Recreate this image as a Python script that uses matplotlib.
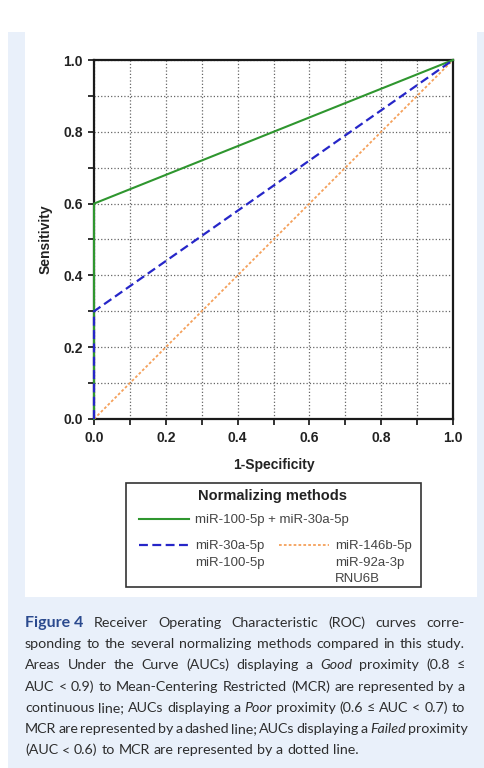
import matplotlib
matplotlib.use('Agg')
import matplotlib.pyplot as plt
from matplotlib.patches import Rectangle
import numpy as np

W, H = 485, 768

# ROC curves (1-specificity, sensitivity)
fpr_good = [0.0, 0.0, 1.0]
tpr_good = [0.0, 0.6, 1.0]
fpr_poor = [0.0, 0.0, 1.0]
tpr_poor = [0.0, 0.3, 1.0]
fpr_fail = [0.0, 1.0]
tpr_fail = [0.0, 1.0]

label_good = ['miR-100-5p + miR-30a-5p']
label_poor = ['miR-30a-5p', 'miR-100-5p']
label_fail = ['miR-146b-5p', 'miR-92a-3p', 'RNU6B']

caption = [
    'Figure\u00a04 Receiver Operating Characteristic (ROC) curves corre-',
    'sponding to the several normalizing methods compared in this study.',
    'Areas Under the Curve (AUCs) displaying a Good proximity (0.8 \u2264',
    'AUC < 0.9) to Mean-Centering Restricted (MCR) are represented by a',
    'continuous line; AUCs displaying a Poor proximity (0.6 \u2264 AUC < 0.7) to',
    'MCR are represented by a dashed line; AUCs displaying a Failed proximity',
    '(AUC < 0.6) to MCR are represented by a dotted line.',
]
italic_words = {'Good', 'Poor', 'Failed'}

plt.rcParams['font.family'] = ['Liberation Sans', 'DejaVu Sans']


def px(x, y):
    # pixel position (from top-left) -> figure fraction
    return x / W, 1 - y / H


fig = plt.figure(figsize=(W / 100, H / 100), dpi=100)
fig.patch.set_facecolor('white')
fig.patches.append(Rectangle(px(8, 800), 1, 1, transform=fig.transFigure,
                             facecolor='#e9f0fa', edgecolor='none', zorder=-3))
x0, y0 = px(25, 597)
x1, y1 = px(477, 25)
fig.patches.append(Rectangle((x0, y0), x1 - x0, y1 - y0, transform=fig.transFigure,
                             facecolor='white', edgecolor='none', zorder=-2))

l, b = px(94, 419)
r, t = px(453, 60)
ax = fig.add_axes([l, b, r - l, t - b])
ax.set_facecolor('white')

ax.plot(fpr_good, tpr_good, color='#2f962f', lw=1.5, clip_on=False, zorder=4)
ax.plot(fpr_poor, tpr_poor, color='#2626c8', lw=1.6, ls=(0, (4, 2)),
        clip_on=False, zorder=5)
ax.plot(fpr_fail, tpr_fail, color='#f5a05a', lw=1.3, ls=(0, (1.5, 1.2)),
        clip_on=False, zorder=3)

ax.set_xlim(0, 1)
ax.set_ylim(0, 1)
ax.set_xticks(np.arange(0, 1.01, 0.2))
ax.set_yticks(np.arange(0, 1.01, 0.2))
ax.set_xticks(np.arange(0.1, 1.0, 0.2), minor=True)
ax.set_yticks(np.arange(0.1, 1.0, 0.2), minor=True)
ax.set_xticklabels(['0.0', '0.2', '0.4', '0.6', '0.8', '1.0'])
ax.set_yticklabels(['0.0', '0.2', '0.4', '0.6', '0.8', '1.0'])
ax.tick_params(which='both', direction='out', length=4, width=1.3, color='#222')
ax.tick_params(axis='x', pad=5)
ax.tick_params(axis='y', pad=4)
for lab in ax.get_xticklabels() + ax.get_yticklabels():
    lab.set_fontsize(10)
    lab.set_fontweight('bold')
    lab.set_color('#222')
for s in ax.spines.values():
    s.set_linewidth(1.6)
    s.set_color('#1a1a1a')
ax.grid(which='both', ls=':', color='#666', lw=0.9)
ax.set_axisbelow(True)

ax.set_xlabel('1-Specificity', fontsize=10, fontweight='bold', color='#222', labelpad=9)
ax.set_ylabel('Sensitivity', fontsize=10, fontweight='bold', color='#222', labelpad=8)

# legend block
lines = ax.get_lines()
fx0, fy0 = px(126, 587)
fx1, fy1 = px(421, 483)
fig.patches.append(Rectangle((fx0, fy0), fx1 - fx0, fy1 - fy0, transform=fig.transFigure,
                             facecolor='white', edgecolor='#333', lw=1.2, zorder=5))
fig.text(*px(273, 496), 'Normalizing methods', fontsize=10.5, fontweight='bold',
         color='#222', ha='center', va='center', zorder=6)
leg_kw = dict(frameon=False, fontsize=9.5, handlelength=3.8, handletextpad=0.45,
              borderpad=0, borderaxespad=0, labelcolor='#444')
leg1 = fig.legend([lines[0]], [label_good[0]], loc='center left',
                  bbox_to_anchor=px(139, 520), **leg_kw)
leg2 = fig.legend([lines[1], lines[2]], [label_poor[0], label_fail[0]], loc='center left',
                  bbox_to_anchor=px(139, 546), ncol=2, columnspacing=1.1, **leg_kw)
for lg in (leg1, leg2):
    lg.set_zorder(7)

fig.canvas.draw()
rend = fig.canvas.get_renderer()

# extra label lines under the first legend line
for tx, extra in zip(leg2.get_texts(), [label_poor[1:], label_fail[1:]]):
    bb = tx.get_window_extent(rend)
    for k, s in enumerate(extra):
        fig.text(bb.x0 / W, (bb.y0 - 16.5 * (k + 1)) / H, s, fontsize=9.5,
                 color='#444', ha='left', va='bottom', zorder=8)

# justified caption
cap_left, cap_right = 25, 465
base0, step = 627, 21.2
cap_fam = ['Lato', 'DejaVu Sans']
cap_size = 10.3
for i, line in enumerate(caption):
    words = line.split(' ')
    items = []
    for j, w in enumerate(words):
        kw = dict(fontsize=cap_size, color='#2e2e2e', family=cap_fam, va='baseline')
        if i == 0 and j == 0:
            kw.update(fontweight='bold', color='#2b4a8e', fontsize=11.5)
        if w in italic_words:
            kw.update(style='italic')
        items.append(fig.text(0, 0, w, **kw))
    widths = [it.get_window_extent(rend).width for it in items]
    if i < len(caption) - 1:
        gap = max((cap_right - cap_left - sum(widths)) / (len(items) - 1), 2.0)
    else:
        gap = 3.8
    xpos = cap_left
    for it, wd in zip(items, widths):
        it.set_position(px(xpos, base0 + i * step))
        xpos += wd + gap

fig.savefig('out.png', dpi=100)
